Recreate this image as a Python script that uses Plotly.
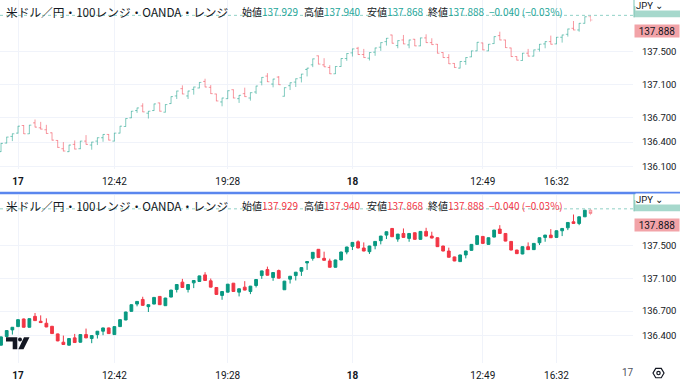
import plotly.graph_objects as go

# ---------------- data (100-tick range bars, USD/JPY OANDA) ----------------
opens = [136.284,136.389,136.470,136.510,136.603,136.502,136.635,136.575,136.551,136.514,
         136.421,136.320,136.284,136.373,136.320,136.413,136.365,136.413,136.454,136.494,
         136.413,136.510,136.591,136.696,136.785,136.841,136.753,136.785,136.878,136.765,
         136.870,136.963,137.052,136.963,137.043,137.060,137.140,137.068,136.987,136.890,
         136.930,137.039,136.930,136.991,136.938,137.011,137.132,137.205,137.108,137.193,
         136.959,137.088,137.132,137.185,137.286,137.342,137.452,137.342,137.310,137.233,
         137.322,137.419,137.488,137.544,137.468,137.423,137.496,137.557,137.625,137.706,
         137.577,137.645,137.585,137.654,137.573,137.670,137.613,137.593,137.492,137.431,
         137.359,137.302,137.383,137.439,137.512,137.609,137.512,137.601,137.698,137.645,
         137.548,137.443,137.395,137.484,137.448,137.532,137.597,137.625,137.597,137.678,
         137.714,137.787,137.767,137.848,137.929]
highs = [136.390,136.465,136.505,136.598,136.608,136.610,136.676,136.647,136.611,136.518,
         136.425,136.401,136.368,136.421,136.416,136.486,136.404,136.457,136.497,136.498,
         136.513,136.598,136.691,136.780,136.820,136.874,136.780,136.869,136.881,136.861,
         136.958,137.026,137.092,137.026,137.075,137.131,137.173,137.096,136.990,136.941,
         137.030,137.042,136.974,137.064,137.006,137.087,137.192,137.241,137.172,137.205,
         137.067,137.127,137.176,137.232,137.305,137.418,137.455,137.423,137.338,137.325,
         137.422,137.483,137.539,137.561,137.536,137.495,137.551,137.616,137.669,137.709,
         137.640,137.706,137.648,137.657,137.673,137.714,137.666,137.596,137.495,137.472,
         137.362,137.386,137.434,137.515,137.620,137.612,137.596,137.689,137.746,137.648,
         137.551,137.446,137.487,137.536,137.527,137.596,137.628,137.698,137.681,137.709,
         137.782,137.876,137.851,137.931,137.940]
lows = [136.280,136.385,136.413,136.505,136.500,136.500,136.580,136.555,136.503,136.420,
        136.332,136.288,136.280,136.312,136.315,136.370,136.308,136.365,136.405,136.422,
        136.410,136.507,136.588,136.693,136.757,136.766,136.688,136.782,136.774,136.762,
        136.867,136.926,136.984,136.926,136.979,137.057,137.069,136.988,136.899,136.837,
        136.927,136.935,136.878,136.952,136.906,136.987,137.092,137.133,137.068,137.097,
        136.956,137.035,137.072,137.128,137.201,137.314,137.348,137.315,137.230,137.230,
        137.319,137.391,137.443,137.465,137.428,137.395,137.452,137.512,137.577,137.602,
        137.544,137.594,137.544,137.570,137.570,137.610,137.586,137.481,137.428,137.352,
        137.307,137.299,137.342,137.436,137.509,137.521,137.509,137.598,137.642,137.549,
        137.440,137.396,137.392,137.445,137.445,137.504,137.544,137.590,137.594,137.613,
        137.686,137.764,137.746,137.845,137.868]
closes = [136.385,136.462,136.502,136.595,136.502,136.607,136.583,136.559,136.506,136.425,
          136.336,136.292,136.365,136.316,136.413,136.373,136.401,136.454,136.494,136.425,
          136.510,136.595,136.688,136.777,136.817,136.769,136.777,136.866,136.777,136.858,
          136.955,137.023,136.987,137.023,137.072,137.128,137.072,136.991,136.902,136.938,
          137.027,136.938,136.971,136.955,137.003,137.084,137.189,137.136,137.169,137.100,
          137.064,137.124,137.173,137.229,137.302,137.415,137.351,137.318,137.233,137.322,
          137.419,137.480,137.536,137.468,137.431,137.492,137.548,137.613,137.666,137.605,
          137.637,137.597,137.645,137.573,137.670,137.613,137.589,137.484,137.431,137.355,
          137.310,137.383,137.431,137.512,137.617,137.524,137.593,137.686,137.645,137.552,
          137.443,137.399,137.484,137.448,137.524,137.593,137.625,137.593,137.678,137.706,
          137.779,137.767,137.848,137.928,137.888]

tick_pos = [3, 20, 40, 62, 85, 98]
tick_text = ["<b>17</b>", "12:42", "19:28", "<b>18</b>", "12:49", "16:32"]
top_price_ticks = [136.1, 136.4, 136.7, 137.1, 137.5]
bot_price_ticks = [136.4, 136.7, 137.1, 137.5]
last_price = 137.945
legend_items = [("始値", "137.929"), ("高値", "137.940"), ("安値", "137.868"), ("終値", "137.888")]
change_text = ["−0.040", "(−0.03%)"]
title = "米ドル／円・100レンジ・OANDA・レンジ"

# ---------------- layout helpers ----------------
W, H = 680, 384
def fx(x): return x / W
def fy(y): return 1 - y / H

UP, DN = "#089981", "#F23645"
UP_P, DN_P = "rgba(8,153,129,0.5)", "rgba(242,54,69,0.5)"
TXT = "#131722"
GRID = "#f0f3fa"
FONT = "Roboto"
CJK = "Noto Sans CJK JP"

idx = list(range(len(opens)))
main = idx[:-1]
lastI = idx[-1:]

fig = go.Figure()
# top pane: OHLC bars (pale)
fig.add_trace(go.Ohlc(x=main, open=opens[:-1], high=highs[:-1], low=lows[:-1], close=closes[:-1],
                      increasing=dict(line=dict(color=UP_P, width=1)),
                      decreasing=dict(line=dict(color=DN_P, width=1)),
                      tickwidth=0.35, xaxis="x", yaxis="y", hoverinfo="skip"))
fig.add_trace(go.Ohlc(x=lastI, open=opens[-1:], high=highs[-1:], low=lows[-1:], close=closes[-1:],
                      increasing=dict(line=dict(color="rgba(242,54,69,0.3)", width=1)),
                      decreasing=dict(line=dict(color="rgba(242,54,69,0.3)", width=1)),
                      tickwidth=0.35, xaxis="x", yaxis="y", hoverinfo="skip"))
# bottom pane: candles
fig.add_trace(go.Candlestick(x=main, open=opens[:-1], high=highs[:-1], low=lows[:-1], close=closes[:-1],
                             increasing=dict(line=dict(color=UP, width=1), fillcolor=UP),
                             decreasing=dict(line=dict(color=DN, width=1), fillcolor=DN),
                             whiskerwidth=0, xaxis="x2", yaxis="y2", hoverinfo="skip"))
fig.add_trace(go.Candlestick(x=lastI, open=opens[-1:], high=highs[-1:], low=lows[-1:], close=closes[-1:],
                             increasing=dict(line=dict(color="rgba(242,54,69,0.35)", width=1), fillcolor="rgba(242,54,69,0.35)"),
                             decreasing=dict(line=dict(color="rgba(242,54,69,0.35)", width=1), fillcolor="rgba(242,54,69,0.35)"),
                             whiskerwidth=0, xaxis="x2", yaxis="y2", hoverinfo="skip"))

xr = [-0.18, 111.5]
xdom = [0, fx(633)]
common_x = dict(range=xr, domain=xdom, tickmode="array", tickvals=tick_pos, ticktext=tick_text,
                showgrid=True, gridcolor=GRID, gridwidth=1, zeroline=False, showline=False,
                ticks="outside", ticklen=3, tickcolor="rgba(0,0,0,0)",
                tickfont=dict(family=FONT, size=10, color=TXT), rangeslider=dict(visible=False),
                fixedrange=True)
common_y = dict(side="right", showgrid=True, gridcolor=GRID, gridwidth=1, zeroline=False, showline=False,
                ticks="outside", ticklen=6, tickcolor="rgba(0,0,0,0)",
                tickfont=dict(family=FONT, size=9.5, color=TXT), fixedrange=True)

fig.update_layout(
    width=W, height=H, margin=dict(l=0, r=0, t=0, b=0),
    paper_bgcolor="white", plot_bgcolor="white", showlegend=False, hovermode=False,
    xaxis=dict(anchor="y", **common_x),
    xaxis2=dict(anchor="y2", **common_x),
    yaxis=dict(anchor="x", domain=[fy(170.5), 1], range=[136.071, 138.132], tickmode="array",
               tickvals=top_price_ticks, ticktext=[f"{v:.3f}" for v in top_price_ticks], **common_y),
    yaxis2=dict(anchor="x2", domain=[fy(366), fy(197)], range=[136.065, 138.108], tickmode="array",
                tickvals=bot_price_ticks, ticktext=[f"{v:.3f}" for v in bot_price_ticks], **common_y),
)

shapes = []
ann = []
# price lines
for yr in ("y", "y2"):
    shapes.append(dict(type="line", xref="paper", yref=yr, x0=0, x1=fx(633), y0=last_price, y1=last_price,
                       line=dict(color="rgba(8,153,129,0.45)", width=1, dash="dot")))
# separator
shapes.append(dict(type="line", xref="paper", yref="paper", x0=0, x1=1, y0=fy(194.5), y1=fy(194.5),
                   line=dict(color="#5a86ee", width=2.5)))

def legend(y0, valcol):
    ann.append(dict(xref="paper", yref="paper", x=fx(4), y=fy(y0), xanchor="left", yanchor="middle",
                    text=title, showarrow=False, font=dict(family=CJK, size=11.7, color=TXT)))
    xs = [240, 301.5, 365, 425.5]
    for (lab, val), xx in zip(legend_items, xs):
        ann.append(dict(xref="paper", yref="paper", x=fx(xx), y=fy(y0), xanchor="left", yanchor="middle",
                        text=f'{lab}<span style="color:{valcol}">{val}</span>', showarrow=False,
                        font=dict(family=CJK, size=10, color=TXT)))
    ann.append(dict(xref="paper", yref="paper", x=fx(486.5), y=fy(y0), xanchor="left", yanchor="middle",
                    text=change_text[0] + " " + change_text[1], showarrow=False,
                    font=dict(family=CJK, size=10, color=valcol)))

legend(12, "#26a69a")
legend(207, DN)

def price_labels(off):
    # green last-price label, mostly hidden behind the JPY button
    shapes.append(dict(type="rect", xref="paper", yref="paper", x0=fx(634), x1=1, y0=fy(17.5 + off), y1=fy(6 + off),
                       fillcolor="#a6d8cc", line=dict(width=0), layer="above"))
    shapes.append(dict(type="line", xref="paper", yref="paper", x0=fx(634), x1=fx(634), y0=fy(17.5 + off), y1=fy(off),
                       line=dict(color="#7cc3b3", width=1), layer="above"))
    ann.append(dict(xref="paper", yref="paper", x=fx(635), y=fy(5 + off), xanchor="left", yanchor="middle",
                    text="JPY ⌄", showarrow=False, bgcolor="white", width=44, height=10, align="left",
                    font=dict(family=FONT, size=9.5, color=TXT), borderpad=0))
    ann.append(dict(xref="paper", yref="paper", x=fx(634), y=fy(31 + off), xanchor="left", yanchor="middle",
                    text="137.888", showarrow=False, bgcolor="#f2a3a8", width=44, height=12,
                    font=dict(family=FONT, size=10, color=TXT), borderpad=0))

price_labels(0)
price_labels(195.5)

# TradingView logo
def path(pts):
    return "M " + " L ".join(f"{fx(x)} {fy(y)}" for x, y in pts) + " Z"
shapes.append(dict(type="path", xref="paper", yref="paper",
                   path=path([(6, 340), (17.3, 340), (17.3, 352), (12.7, 352), (12.7, 344.3), (6, 344.3)]),
                   fillcolor="#131722", line=dict(width=0)))
shapes.append(dict(type="circle", xref="paper", yref="paper", x0=fx(18), x1=fx(22), y0=fy(344.2), y1=fy(340.2),
                   fillcolor="#131722", line=dict(width=0)))
shapes.append(dict(type="path", xref="paper", yref="paper",
                   path=path([(24, 340), (29.5, 340), (23.5, 352), (18.3, 352)]),
                   fillcolor="#131722", line=dict(width=0)))
# bottom-right date + gear
ann.append(dict(xref="paper", yref="paper", x=fx(628), y=fy(375), xanchor="center", yanchor="middle",
                text="17", showarrow=False, font=dict(family=FONT, size=10, color="#50535e")))
hexpts = [(653, 376), (655.75, 371.3), (661.25, 371.3), (664, 376), (661.25, 380.7), (655.75, 380.7)]
shapes.append(dict(type="path", xref="paper", yref="paper", path=path(hexpts),
                   fillcolor="rgba(0,0,0,0)", line=dict(color="#131722", width=1.2)))
shapes.append(dict(type="circle", xref="paper", yref="paper", x0=fx(656.8), x1=fx(660.2), y0=fy(377.7), y1=fy(374.3),
                   fillcolor="rgba(0,0,0,0)", line=dict(color="#131722", width=1.2)))

fig.update_layout(shapes=shapes, annotations=ann)
fig.write_html("out.html", config={"displayModeBar": False},
               post_script="document.body.style.margin='0';document.body.style.overflow='hidden';")
